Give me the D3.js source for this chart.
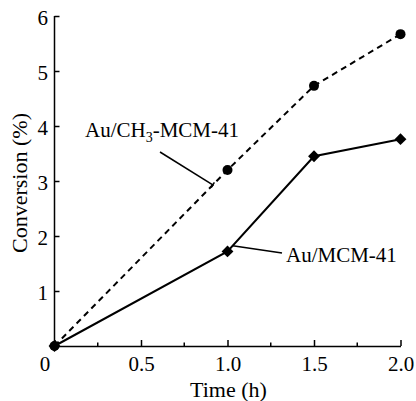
<!DOCTYPE html>
<html>
<head>
<meta charset="utf-8">
<script src="https://cdn.jsdelivr.net/npm/d3@7"></script>
<style>
  body { margin: 0; background: #fff; }
  svg { display: block; }
</style>
</head>
<body>
<div id="chart"></div>
<script>
// data
const times = [0, 1.0, 1.5, 2.0];
const ch3Conversion = [0, 3.2, 4.73, 5.67];
const mcmConversion = [0, 1.72, 3.45, 3.76];
const xMajorTicks = [0, 0.5, 1.0, 1.5, 2.0];
const xTickLabels = ["0", "0.5", "1.0", "1.5", "2.0"];
const xMinorTicks = [0.25, 0.75, 1.25, 1.75];
const yTicks = [1, 2, 3, 4, 5, 6];

const width = 416, height = 401;
const font = "'Liberation Serif', 'Times New Roman', serif";

const svg = d3.select("#chart").append("svg")
    .attr("width", width)
    .attr("height", height)
    .attr("font-family", font);

const x = d3.scaleLinear().domain([0, 2]).range([54.5, 400.5]);
const y = d3.scaleLinear().domain([0, 6]).range([346, 16]);

// x axis, ticks point inward
const xAxis = svg.append("g")
    .attr("transform", `translate(0,${y(0)})`)
    .call(d3.axisBottom(x)
        .tickValues(xMajorTicks)
        .tickFormat((d, i) => xTickLabels[i])
        .tickSizeInner(-6)
        .tickSizeOuter(0)
        .tickPadding(10))
    .attr("font-family", font);
xAxis.select(".domain").attr("stroke-width", 1.5);
xAxis.selectAll(".tick line").attr("stroke-width", 1.5);
xAxis.selectAll(".tick text").attr("font-size", 21).attr("fill", "#000");
xAxis.selectAll(".tick text").filter(d => d === 0).attr("dx", -10);

svg.append("g")
    .attr("transform", `translate(0,${y(0)})`)
    .selectAll("line.minor")
    .data(xMinorTicks)
    .join("line")
    .attr("class", "minor")
    .attr("x1", d => x(d)).attr("x2", d => x(d))
    .attr("y1", 0).attr("y2", -3.5)
    .attr("stroke", "#000").attr("stroke-width", 1.5);

// y axis
const yAxis = svg.append("g")
    .attr("transform", `translate(${x(0)},0)`)
    .call(d3.axisLeft(y)
        .tickValues(yTicks)
        .tickFormat(d3.format("d"))
        .tickSizeInner(-5)
        .tickSizeOuter(0)
        .tickPadding(6.5))
    .attr("font-family", font);
yAxis.select(".domain").attr("stroke-width", 1.5).attr("d", `M0,${y(0)}V${y(6)}`);
yAxis.selectAll(".tick line").attr("stroke-width", 1.5);
yAxis.selectAll(".tick text").attr("font-size", 21).attr("fill", "#000").attr("dy", "0.4em");

// axis titles
svg.append("text")
    .attr("x", 228.5).attr("y", 397)
    .attr("text-anchor", "middle")
    .attr("font-size", 22)
    .text("Time (h)");

svg.append("text")
    .attr("transform", `translate(27,183) rotate(-90)`)
    .attr("text-anchor", "middle")
    .attr("font-size", 22)
    .text("Conversion (%)");

// series
const line = d3.line().x(d => x(d[0])).y(d => y(d[1]));
const ch3Pts = times.map((t, i) => [t, ch3Conversion[i]]);
const mcmPts = times.map((t, i) => [t, mcmConversion[i]]);

svg.append("path")
    .datum(ch3Pts)
    .attr("d", line)
    .attr("fill", "none")
    .attr("stroke", "#000")
    .attr("stroke-width", 2)
    .attr("stroke-dasharray", "6,4.5");

svg.append("path")
    .datum(mcmPts)
    .attr("d", line)
    .attr("fill", "none")
    .attr("stroke", "#000")
    .attr("stroke-width", 2);

svg.selectAll("circle.ch3")
    .data(ch3Pts)
    .join("circle")
    .attr("class", "ch3")
    .attr("cx", d => x(d[0]))
    .attr("cy", d => y(d[1]))
    .attr("r", 5)
    .attr("fill", "#000");

const diamond = d3.symbol().type(d3.symbolSquare).size(70);
svg.selectAll("path.mcm")
    .data(mcmPts)
    .join("path")
    .attr("class", "mcm")
    .attr("d", diamond)
    .attr("transform", d => `translate(${x(d[0])},${y(d[1])}) rotate(45)`)
    .attr("fill", "#000");

// annotations
const ch3Tip = [0.915, 0.915 * 3.2];
const mcmTip = [1.03, 1.72 + 0.06 * (3.45 - 1.72)];

svg.append("line")
    .attr("x1", 160).attr("y1", 152)
    .attr("x2", x(ch3Tip[0])).attr("y2", y(ch3Tip[1]))
    .attr("stroke", "#000").attr("stroke-width", 1.5);
// small end cap
{
  const ex = x(ch3Tip[0]), ey = y(ch3Tip[1]);
  const dx = ex - 160, dy = ey - 152, len = Math.hypot(dx, dy);
  const px = -dy / len * 3, py = dx / len * 3;
  svg.append("line")
      .attr("x1", ex - px).attr("y1", ey - py)
      .attr("x2", ex + px).attr("y2", ey + py)
      .attr("stroke", "#000").attr("stroke-width", 1.5);
}

const ch3Label = svg.append("text")
    .attr("x", 85).attr("y", 137)
    .attr("font-size", 21);
ch3Label.append("tspan").text("Au/CH");
ch3Label.append("tspan").attr("font-size", 14).attr("dy", 5).text("3");
ch3Label.append("tspan").attr("dy", -5).text("-MCM-41");

svg.append("line")
    .attr("x1", x(mcmTip[0])).attr("y1", y(mcmTip[1]))
    .attr("x2", 282).attr("y2", 253)
    .attr("stroke", "#000").attr("stroke-width", 1.5);

svg.append("text")
    .attr("x", 286).attr("y", 262)
    .attr("font-size", 21)
    .text("Au/MCM-41");
</script>
</body>
</html>
